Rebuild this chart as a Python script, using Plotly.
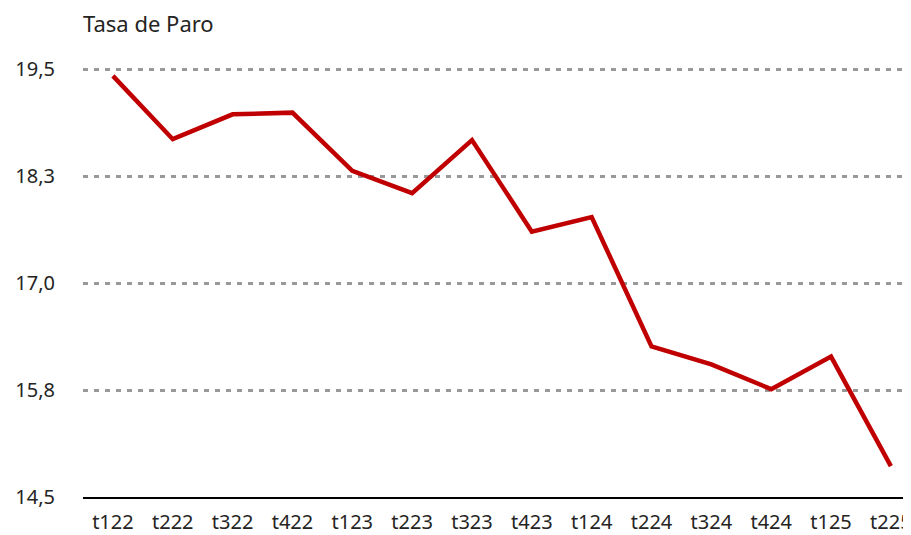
import plotly.graph_objects as go

quarters = ["t122", "t222", "t322", "t422", "t123", "t223", "t323", "t423",
            "t124", "t224", "t324", "t424", "t125", "t225"]
tasa_paro = [19.42, 18.68, 18.97, 18.99, 18.31, 18.05, 18.67, 17.60,
             17.77, 16.26, 16.05, 15.76, 16.14, 14.86]
y_ticks = [14.5, 15.75, 17.0, 18.25, 19.5]
y_tick_labels = ["14,5", "15,8", "17,0", "18,3", "19,5"]

font_family = "Noto Sans, Open Sans, sans-serif"
text_color = "#252423"

fig = go.Figure()
fig.add_trace(go.Scatter(
    x=list(range(len(quarters))), y=tasa_paro, mode="lines",
    line=dict(color="#C00000", width=4.5), hoverinfo="skip", showlegend=False,
))

fig.update_layout(
    width=911, height=535,
    margin=dict(l=75, r=0, t=58, b=46),
    paper_bgcolor="white", plot_bgcolor="white",
    font=dict(family=font_family, size=20, color=text_color),
    title=dict(
        text="Tasa de Paro", xref="paper", x=0, xanchor="left",
        yref="container", y=1 - 16 / 535, yanchor="middle",
        font=dict(size=22, color=text_color, family=font_family),
    ),
    xaxis=dict(
        tickmode="array", tickvals=list(range(len(quarters))), ticktext=quarters,
        range=[-0.5, 13.47], showgrid=False, zeroline=False,
        showline=True, linecolor="#000000", linewidth=2,
        ticks="", ticklabelstandoff=6, tickfont=dict(size=20, color=text_color),
    ),
    yaxis=dict(
        range=[14.5, 19.535], tickmode="array", tickvals=y_ticks, ticktext=y_tick_labels,
        showgrid=True, gridcolor="#999999", gridwidth=2.5, griddash="5px,6px",
        zeroline=False, showline=False, ticks="", ticklabelstandoff=27,
        tickfont=dict(size=20, color=text_color),
    ),
)

fig.write_html("out.html")
